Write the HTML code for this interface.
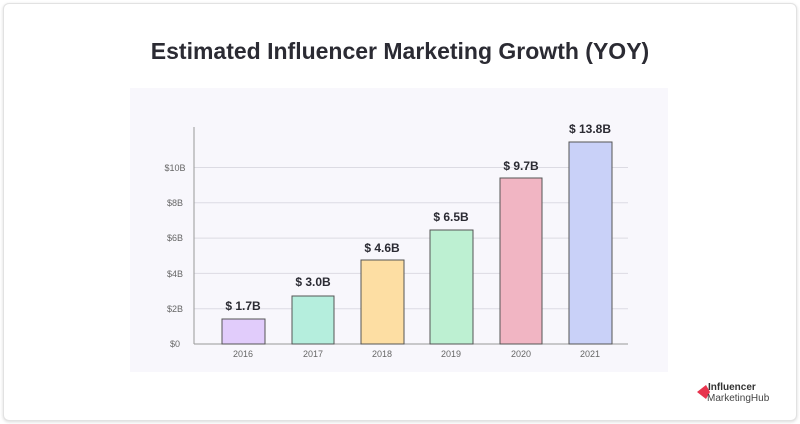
<!DOCTYPE html>
<html><head><style>
body{margin:0;width:800px;height:424px;background:#fff;font-family:"Liberation Sans",sans-serif;overflow:hidden}
.card{position:absolute;left:3px;top:3px;width:792px;height:416px;border:1px solid #e2e2e2;border-radius:6px;box-shadow:0 1px 3px rgba(0,0,0,.15);background:#fff}
.title{position:absolute;left:0;width:800px;top:38px;text-align:center;font-size:23px;font-weight:bold;color:#2b2b33}
</style></head><body>
<div class="card"></div>
<div class="title">Estimated Influencer Marketing Growth (YOY)</div>
<svg width="800" height="424" style="position:absolute;left:0;top:0">
<rect x="130" y="88" width="538" height="284" fill="#f8f7fc"/>
<g stroke="#dcdbe3" stroke-width="1">
<line x1="194" x2="628" y1="308.7" y2="308.7"/>
<line x1="194" x2="628" y1="273.4" y2="273.4"/>
<line x1="194" x2="628" y1="238.1" y2="238.1"/>
<line x1="194" x2="628" y1="202.8" y2="202.8"/>
<line x1="194" x2="628" y1="167.5" y2="167.5"/>
</g>
<line x1="194" x2="194" y1="127" y2="344" stroke="#999" stroke-width="1"/>
<line x1="194" x2="628" y1="344" y2="344" stroke="#999" stroke-width="1"/>
<g font-size="9" fill="#666" text-anchor="middle">
<text x="175" y="347">$0</text><text x="175" y="312">$2B</text><text x="175" y="277">$4B</text>
<text x="175" y="241">$6B</text><text x="175" y="206">$8B</text><text x="175" y="171">$10B</text>
<text x="243" y="357">2016</text><text x="313" y="357">2017</text><text x="382" y="357">2018</text>
<text x="451" y="357">2019</text><text x="521" y="357">2020</text><text x="590" y="357">2021</text>
</g>
<g stroke="#555" stroke-width="1">
<rect x="222" y="319" width="43" height="25" fill="#e1ccfb"/>
<rect x="292" y="296" width="42" height="48" fill="#b5eedd"/>
<rect x="361" y="260" width="43" height="84" fill="#fddea3"/>
<rect x="430" y="230" width="43" height="114" fill="#bdf0d2"/>
<rect x="500" y="178" width="42" height="166" fill="#f1b5c3"/>
<rect x="569" y="142" width="43" height="202" fill="#c9d1f8"/>
</g>
<g font-size="12" font-weight="bold" fill="#2b2b33" text-anchor="middle">
<text x="243" y="310">$ 1.7B</text><text x="313" y="286">$ 3.0B</text><text x="382" y="252">$ 4.6B</text>
<text x="451" y="221">$ 6.5B</text><text x="521" y="170">$ 9.7B</text><text x="590" y="133">$ 13.8B</text>
</g>
<polygon points="697,392 706,385 710,392 706,399" fill="#e8344e"/>
<text x="708" y="390" font-size="10" font-weight="bold" fill="#333">Influencer</text>
<text x="707" y="401" font-size="10" fill="#444">MarketingHub</text>
</svg>
</body></html>
